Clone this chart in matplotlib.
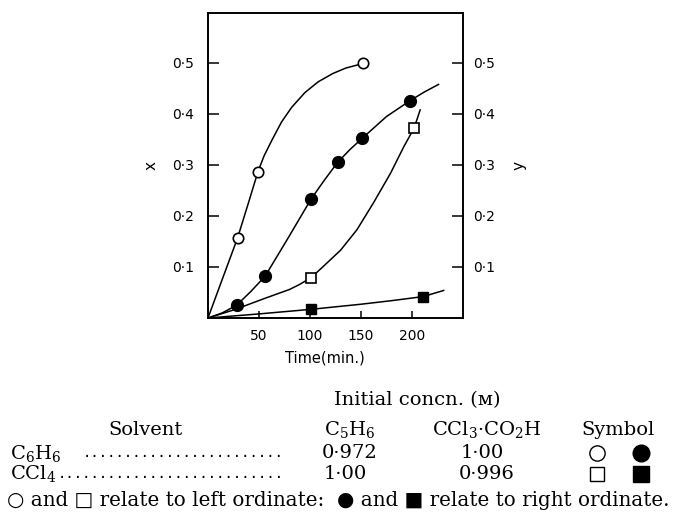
# -*- coding: utf-8 -*-

import matplotlib
matplotlib.use("Agg")
import matplotlib.pyplot as plt
from matplotlib.lines import Line2D

plt.rcParams['mathtext.fontset'] = 'dejavuserif'

# x (left ordinate): open symbols
t_open_circle = [29, 49, 152]
x_open_circle = [0.157, 0.287, 0.499]
t_open_square = [101, 202]
x_open_square = [0.079, 0.372]

# y (right ordinate): filled symbols
t_fill_circle = [28, 56, 101, 127, 151, 198]
y_fill_circle = [0.025, 0.082, 0.233, 0.305, 0.352, 0.426]
t_fill_square = [101, 211]
y_fill_square = [0.017, 0.042]

# hand-drawn smooth curves
curve_oc_t = [0, 14, 29, 40, 49, 55, 63, 72, 82, 95, 108, 122, 135, 152]
curve_oc_v = [0, 0.076, 0.157, 0.228, 0.287, 0.318, 0.350, 0.384, 0.413, 0.442, 0.463, 0.479, 0.490, 0.499]
curve_fc_t = [0, 14, 28, 42, 56, 78, 101, 114, 127, 139, 151, 175, 198, 212, 226]
curve_fc_v = [0, 0.010, 0.025, 0.052, 0.082, 0.155, 0.233, 0.270, 0.305, 0.330, 0.352, 0.395, 0.426, 0.443, 0.458]
curve_os_t = [0, 27, 55, 80, 90, 101, 113, 130, 146, 162, 179, 192, 202, 208]
curve_os_v = [0, 0.017, 0.038, 0.056, 0.066, 0.079, 0.101, 0.133, 0.173, 0.225, 0.284, 0.336, 0.372, 0.408]
curve_fs_t = [0, 50, 101, 150, 180, 211, 231]
curve_fs_v = [0, 0.008, 0.017, 0.027, 0.034, 0.042, 0.054]

x_ticks = [50, 100, 150, 200]
y_ticks = [0.1, 0.2, 0.3, 0.4, 0.5]
y_tick_labels = ['0·1', '0·2', '0·3', '0·4', '0·5']

W, H = 677, 514
fig = plt.figure(figsize=(W / 100, H / 100), dpi=100)
ax = fig.add_axes([208 / W, 1 - 318 / H, 255 / W, 305 / H])
ax2 = ax.twinx()

for a in (ax, ax2):
    a.set_xlim(0, 250)
    a.set_ylim(0, 0.598)
    for s in a.spines.values():
        s.set_linewidth(1.2)

lw = 1.1
ax.plot(curve_oc_t, curve_oc_v, color='k', lw=lw)
ax.plot(curve_os_t, curve_os_v, color='k', lw=lw)
ax2.plot(curve_fc_t, curve_fc_v, color='k', lw=lw)
ax2.plot(curve_fs_t, curve_fs_v, color='k', lw=lw)

ax.plot(t_open_circle, x_open_circle, 'o', ms=7.5, mfc='white', mec='k', mew=1.2, zorder=5)
ax.plot(t_open_square, x_open_square, 's', ms=6.5, mfc='white', mec='k', mew=1.2, zorder=5)
ax2.plot(t_fill_circle, y_fill_circle, 'o', ms=8.5, color='k', zorder=5)
ax2.plot(t_fill_square, y_fill_square, 's', ms=7.5, color='k', zorder=5)

ax.set_xticks(x_ticks)
ax.set_xticklabels([str(v) for v in x_ticks], fontsize=10)
ax.set_yticks(y_ticks)
ax.set_yticklabels(y_tick_labels, fontsize=10)
ax2.set_yticks(y_ticks)
ax2.set_yticklabels(y_tick_labels, fontsize=10)
ax.tick_params(axis='x', direction='in', length=5, width=1.1, pad=8)
ax.tick_params(axis='y', direction='in', length=8, width=1.1, pad=10)
ax2.tick_params(axis='y', direction='in', length=8, width=1.1, pad=7)

ax.set_xlabel('Time(min.)', fontsize=10.5)
ax.xaxis.set_label_coords(0.459, -0.105)
ax.set_ylabel('x', fontsize=11, labelpad=10)
ax2.set_ylabel('y', fontsize=11, labelpad=12)

# table below the graph (figure pixel coords, y from top)
def ftext(x, y, s, ha='left', size=14, family='DejaVu Serif'):
    fig.text(x / W, 1 - y / H, s, ha=ha, va='center', fontsize=size, family=family)

ftext(417, 400, 'Initial concn. (ᴍ)', ha='center', family=['DejaVu Serif', 'DejaVu Sans'])
ftext(146, 430, 'Solvent', ha='center')
ftext(350, 430, r'C$_5$H$_6$', ha='center')
ftext(487, 430, r'CCl$_3$·CO$_2$H', ha='center')
ftext(618, 430, 'Symbol', ha='center')

ftext(10, 453, r'C$_6$H$_6$')
ftext(83, 453, '.' * 24, size=10, family='DejaVu Sans Mono')
ftext(350, 453, '0·972', ha='center')
ftext(482, 453, '1·00', ha='center')

ftext(10, 474, r'CCl$_4$')
ftext(58, 474, '.' * 27, size=10, family='DejaVu Sans Mono')
ftext(345, 474, '1·00', ha='center')
ftext(487, 474, '0·996', ha='center')

sym = [(597, 453, 'o', 'white', 11), (641, 453, 'o', 'k', 12),
       (597, 474, 's', 'white', 10), (641, 474, 's', 'k', 11)]
for sx, sy, m, fc, ms in sym:
    fig.add_artist(Line2D([sx / W], [1 - sy / H], marker=m, ms=ms, mfc=fc,
                          mec='k', mew=1.0, transform=fig.transFigure))

ftext(7, 500, '○ and □ relate to left ordinate:  ● and ■ relate to right ordinate.',
      size=14.3, family=['DejaVu Serif', 'DejaVu Sans'])

fig.savefig('out.png', dpi=100)
